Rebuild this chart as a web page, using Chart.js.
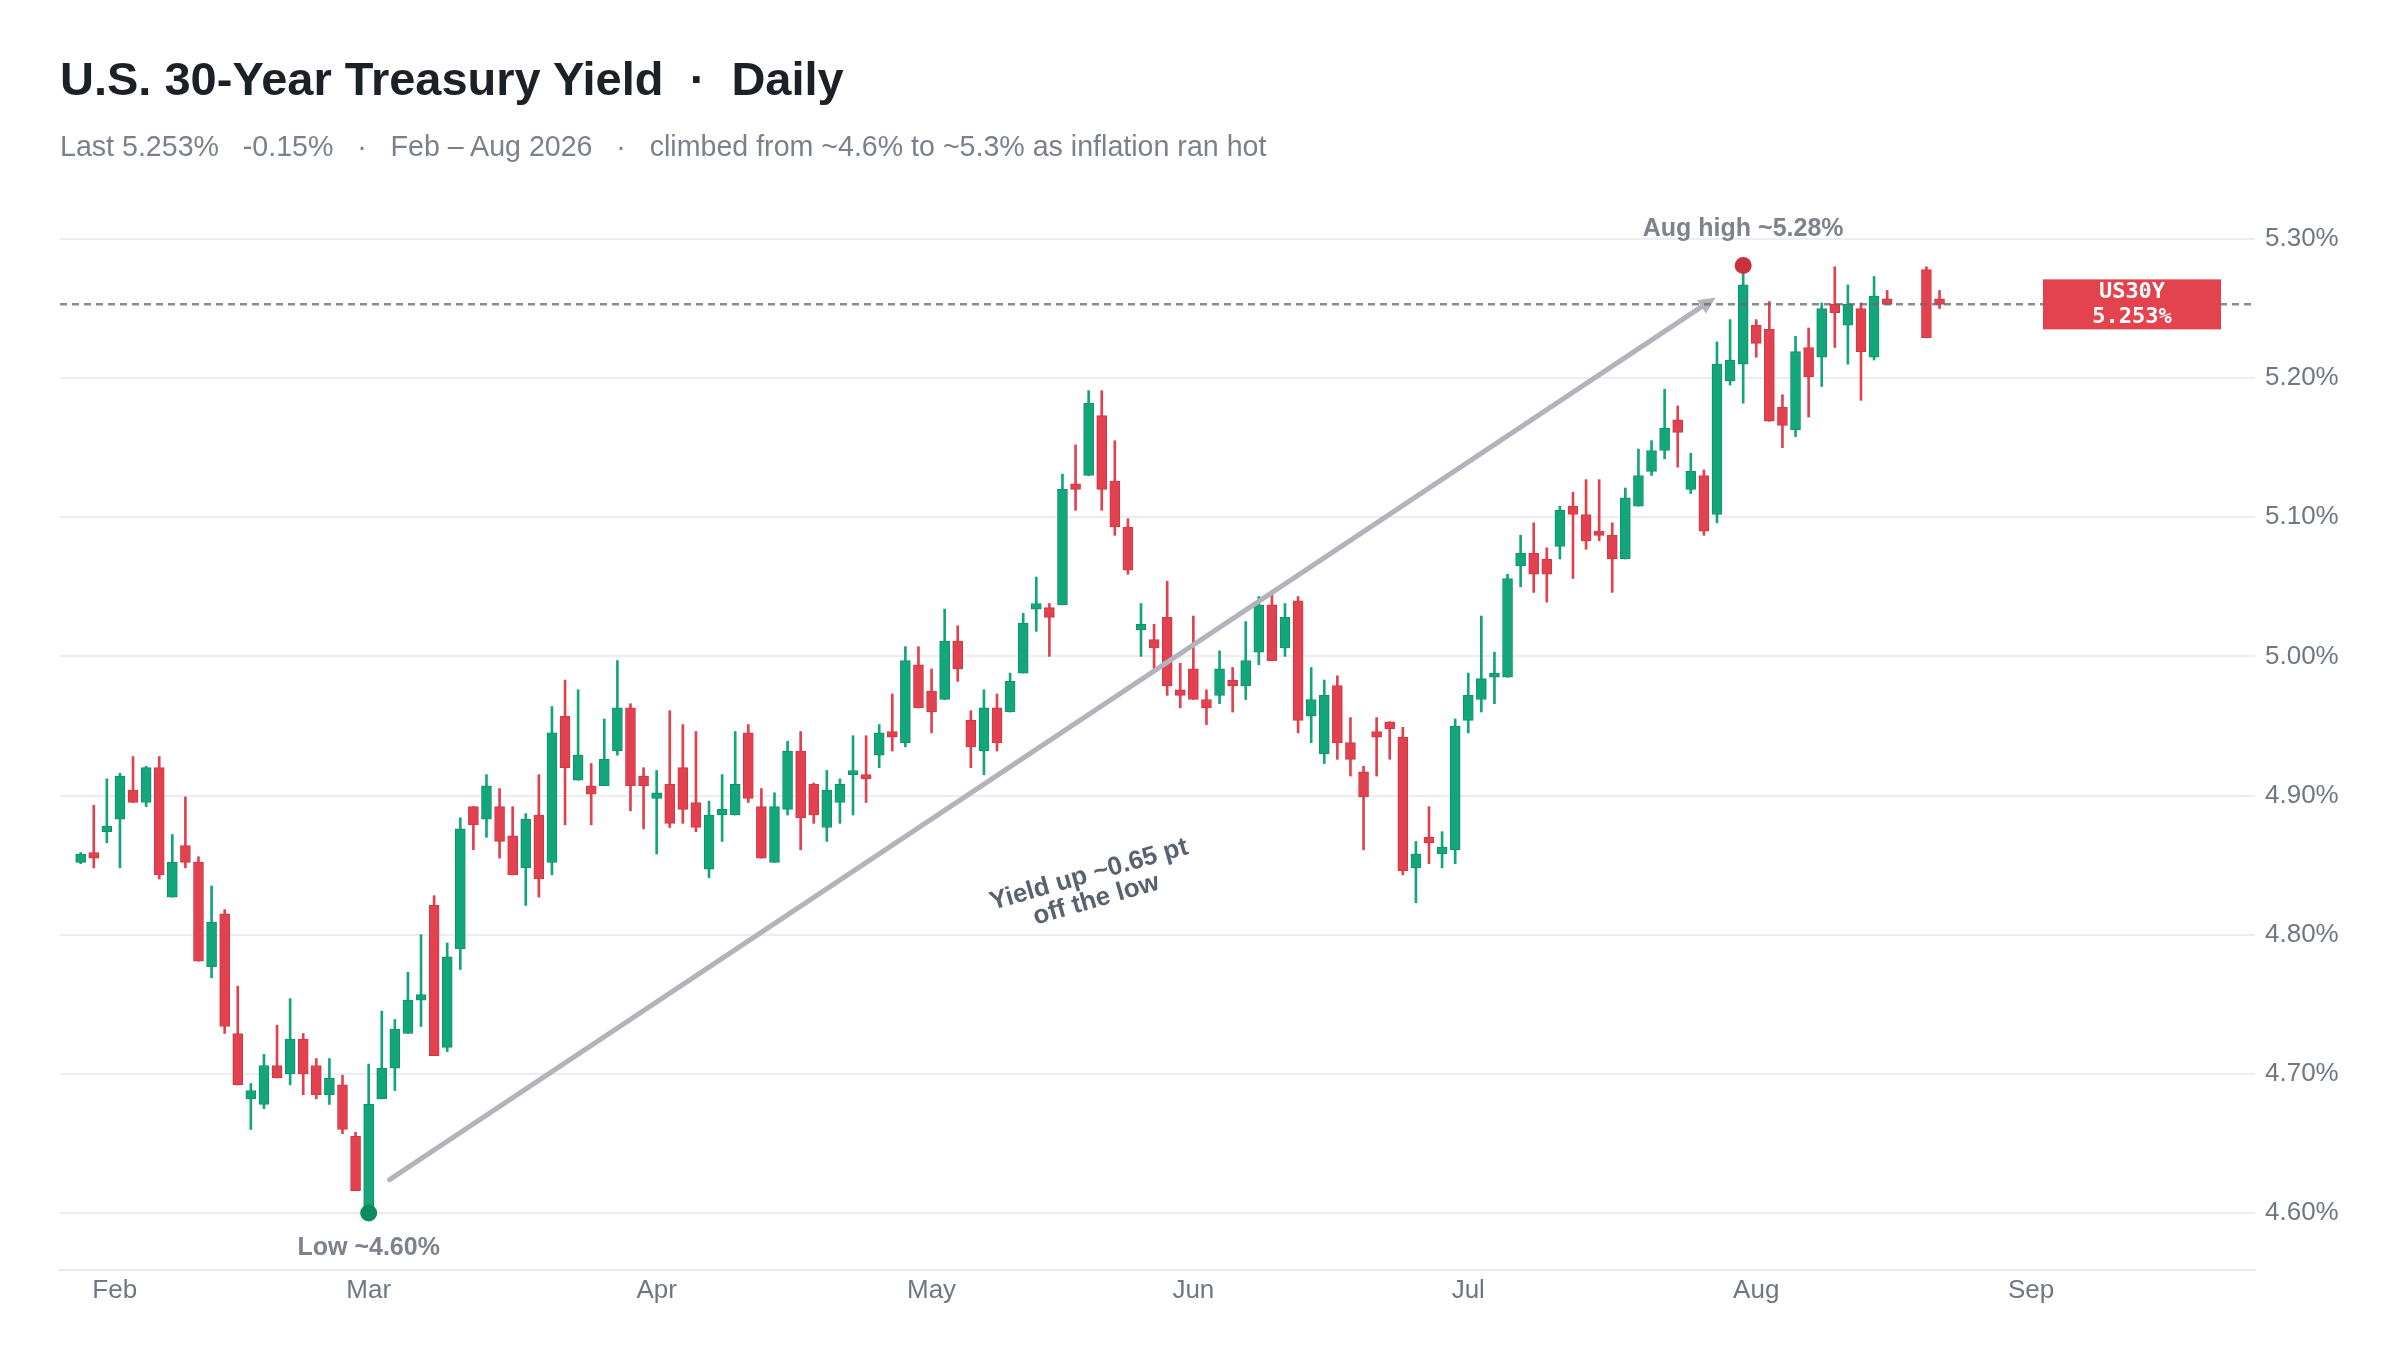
<!DOCTYPE html>
<html>
<head>
<meta charset="utf-8">
<title>US30Y daily</title>
<script src="https://cdn.jsdelivr.net/npm/chart.js@4.4.1/dist/chart.umd.min.js"></script>
<style>
  html, body { margin: 0; padding: 0; background: #fff; }
  body { width: 2399px; height: 1362px; position: relative; overflow: hidden;
         font-family: "Liberation Sans", Arial, sans-serif; }
  #wrap { position: absolute; left: 0; top: 0; width: 2399px; height: 1362px; }
  #title { position: absolute; left: 60px; top: 55px; font-size: 47px; line-height: 47px;
           font-weight: bold; color: #1d2026; white-space: pre; }
  #subtitle { position: absolute; left: 60px; top: 132px; font-size: 28.6px; line-height: 28.6px;
              color: #7b818c; white-space: pre; }
</style>
</head>
<body>
<div id="wrap"><canvas id="chart"></canvas></div>
<div id="title">U.S. 30-Year Treasury Yield  ·  Daily</div>
<div id="subtitle">Last 5.253%   -0.15%   ·   Feb – Aug 2026   ·   climbed from ~4.6% to ~5.3% as inflation ran hot</div>
<script>
// one entry per trading day, x = position in the array (null = no print)
const opens = [
  4.852, 4.859, 4.874, 4.883, 4.904, 4.895, 4.920, 4.827, 4.864, 4.852,
  4.777, 4.815, 4.729, 4.682, 4.678, 4.706, 4.700, 4.725, 4.706, 4.685,
  4.692, 4.655, 4.601, 4.682, 4.704, 4.729, 4.753, 4.821, 4.719, 4.790,
  4.892, 4.883, 4.892, 4.871, 4.848, 4.886, 4.852, 4.957, 4.911, 4.907,
  4.907, 4.932, 4.963, 4.914, 4.898, 4.908, 4.920, 4.895, 4.847, 4.886,
  4.886, 4.945, 4.892, 4.852, 4.890, 4.932, 4.908, 4.877, 4.895, 4.915,
  4.915, 4.929, 4.946, 4.938, 4.994, 4.975, 4.969, 5.011, 4.954, 4.932,
  4.963, 4.960, 4.988, 5.034, 5.035, 5.037, 5.124, 5.130, 5.173, 5.126,
  5.093, 5.019, 5.012, 5.028, 4.976, 4.991, 4.969, 4.972, 4.983, 4.979,
  5.003, 5.037, 5.006, 5.040, 4.957, 4.930, 4.979, 4.938, 4.917, 4.946,
  4.953, 4.942, 4.848, 4.870, 4.858, 4.861, 4.954, 4.969, 4.985, 4.985,
  5.065, 5.074, 5.070, 5.079, 5.108, 5.102, 5.090, 5.087, 5.070, 5.108,
  5.133, 5.148, 5.170, 5.120, 5.130, 5.102, 5.198, 5.210, 5.238, 5.235,
  5.179, 5.163, 5.222, 5.215, 5.253, 5.238, 5.250, 5.215, 5.257, null,
  null, 5.278, 5.257
];
const highs = [
  4.859, 4.893, 4.912, 4.916, 4.928, 4.921, 4.928, 4.872, 4.899, 4.856,
  4.835, 4.818, 4.763, 4.693, 4.714, 4.735, 4.754, 4.729, 4.711, 4.711,
  4.699, 4.658, 4.707, 4.745, 4.739, 4.773, 4.800, 4.828, 4.794, 4.884,
  4.892, 4.915, 4.905, 4.892, 4.887, 4.915, 4.964, 4.983, 4.976, 4.923,
  4.955, 4.997, 4.966, 4.920, 4.918, 4.961, 4.951, 4.946, 4.896, 4.915,
  4.946, 4.951, 4.905, 4.902, 4.939, 4.946, 4.909, 4.918, 4.912, 4.943,
  4.943, 4.951, 4.973, 5.007, 5.007, 4.991, 5.034, 5.022, 4.961, 4.976,
  4.973, 4.988, 5.031, 5.057, 5.038, 5.131, 5.152, 5.191, 5.191, 5.155,
  5.099, 5.038, 5.023, 5.054, 4.995, 5.029, 4.976, 5.004, 4.992, 5.025,
  5.043, 5.047, 5.038, 5.043, 4.992, 4.983, 4.986, 4.956, 4.921, 4.956,
  4.953, 4.949, 4.867, 4.892, 4.874, 4.955, 4.988, 5.029, 5.003, 5.059,
  5.087, 5.096, 5.078, 5.108, 5.118, 5.127, 5.127, 5.096, 5.121, 5.149,
  5.155, 5.192, 5.180, 5.146, 5.134, 5.226, 5.242, 5.281, 5.242, 5.255,
  5.188, 5.230, 5.236, 5.254, 5.280, 5.267, 5.254, 5.273, 5.263, null,
  null, 5.280, 5.263
];
const lows = [
  4.851, 4.848, 4.866, 4.848, 4.895, 4.892, 4.840, 4.827, 4.848, 4.781,
  4.769, 4.729, 4.692, 4.660, 4.675, 4.697, 4.692, 4.685, 4.682, 4.678,
  4.657, 4.616, 4.600, 4.682, 4.688, 4.729, 4.734, 4.713, 4.716, 4.775,
  4.861, 4.870, 4.855, 4.843, 4.821, 4.827, 4.843, 4.879, 4.911, 4.879,
  4.907, 4.929, 4.889, 4.876, 4.858, 4.877, 4.880, 4.874, 4.841, 4.867,
  4.886, 4.895, 4.855, 4.852, 4.886, 4.861, 4.880, 4.867, 4.880, 4.886,
  4.895, 4.920, 4.932, 4.935, 4.963, 4.945, 4.969, 4.982, 4.920, 4.915,
  4.932, 4.960, 4.988, 5.018, 5.000, 5.037, 5.105, 5.130, 5.105, 5.087,
  5.059, 5.000, 4.991, 4.972, 4.963, 4.969, 4.951, 4.966, 4.960, 4.969,
  4.994, 4.997, 5.000, 4.945, 4.938, 4.923, 4.926, 4.914, 4.861, 4.914,
  4.926, 4.843, 4.823, 4.851, 4.848, 4.851, 4.945, 4.960, 4.966, 4.985,
  5.050, 5.046, 5.039, 5.070, 5.056, 5.077, 5.083, 5.046, 5.070, 5.108,
  5.130, 5.142, 5.136, 5.117, 5.087, 5.096, 5.195, 5.182, 5.215, 5.169,
  5.150, 5.158, 5.172, 5.194, 5.222, 5.210, 5.184, 5.213, 5.253, null,
  null, 5.229, 5.250
];
const closes = [
  4.858, 4.855, 4.878, 4.914, 4.895, 4.920, 4.843, 4.852, 4.852, 4.781,
  4.809, 4.734, 4.692, 4.688, 4.706, 4.697, 4.725, 4.700, 4.685, 4.697,
  4.660, 4.616, 4.678, 4.704, 4.732, 4.753, 4.757, 4.713, 4.784, 4.876,
  4.879, 4.907, 4.867, 4.843, 4.883, 4.840, 4.945, 4.920, 4.929, 4.901,
  4.926, 4.963, 4.907, 4.907, 4.902, 4.880, 4.890, 4.877, 4.886, 4.890,
  4.908, 4.898, 4.855, 4.892, 4.932, 4.884, 4.886, 4.904, 4.908, 4.918,
  4.912, 4.945, 4.942, 4.997, 4.963, 4.960, 5.011, 4.991, 4.935, 4.963,
  4.938, 4.982, 5.024, 5.038, 5.028, 5.120, 5.120, 5.182, 5.120, 5.093,
  5.062, 5.023, 5.006, 4.979, 4.972, 4.969, 4.963, 4.991, 4.979, 4.997,
  5.037, 4.997, 5.028, 4.954, 4.969, 4.972, 4.938, 4.926, 4.899, 4.942,
  4.948, 4.846, 4.858, 4.866, 4.863, 4.950, 4.972, 4.984, 4.988, 5.056,
  5.074, 5.059, 5.059, 5.105, 5.102, 5.083, 5.087, 5.070, 5.114, 5.130,
  5.148, 5.164, 5.161, 5.133, 5.090, 5.210, 5.213, 5.267, 5.225, 5.169,
  5.166, 5.219, 5.201, 5.250, 5.247, 5.253, 5.219, 5.259, 5.253, null,
  null, 5.229, 5.253
];

const monthLabels = ['Feb', 'Mar', 'Apr', 'May', 'Jun', 'Jul', 'Aug', 'Sep'];
const monthTickIdx = [2.6, 22, 44, 65, 85, 106, 128, 149];
const yTicks = [4.6, 4.7, 4.8, 4.9, 5.0, 5.1, 5.2, 5.3];

const lowIdx = 22;
const highIdx = 127;
const lastValue = 5.253;
const arrowFrom = [23.6, 4.624];
const arrowTo = [124.9, 5.258];
const noteAt = [77.3, 4.834];

const FONT = '"Liberation Sans", Arial, sans-serif';
const UP = '#12a67a', DOWN = '#e2414f';
const UP_EDGE = '#0f936b', DOWN_EDGE = '#cf3846';
const AXIS_TEXT = '#707783';

Chart.defaults.font.family = FONT;

const candles = [];
opens.forEach((o, i) => {
  if (o === null) return;
  candles.push({ x: i, o: o, h: highs[i], l: lows[i], c: closes[i] });
});
const up = i => candles[i].c >= candles[i].o;

const overlay = {
  id: 'overlay',
  afterDatasetsDraw(chart) {
    const { ctx, chartArea: a, scales: { x, y } } = chart;
    ctx.save();

    // arrow from the low to the high
    const x1 = x.getPixelForValue(arrowFrom[0]), y1 = y.getPixelForValue(arrowFrom[1]);
    const x2 = x.getPixelForValue(arrowTo[0]), y2 = y.getPixelForValue(arrowTo[1]);
    const ang = Math.atan2(y2 - y1, x2 - x1);
    const head = 17;
    ctx.strokeStyle = '#b3b4bb';
    ctx.fillStyle = '#b3b4bb';
    ctx.lineWidth = 5;
    ctx.lineCap = 'round';
    ctx.beginPath();
    ctx.moveTo(x1, y1);
    ctx.lineTo(x2 - Math.cos(ang) * head * 0.8, y2 - Math.sin(ang) * head * 0.8);
    ctx.stroke();
    ctx.beginPath();
    ctx.moveTo(x2, y2);
    ctx.lineTo(x2 - head * Math.cos(ang) + 8 * Math.sin(ang), y2 - head * Math.sin(ang) - 8 * Math.cos(ang));
    ctx.lineTo(x2 - head * Math.cos(ang) - 8 * Math.sin(ang), y2 - head * Math.sin(ang) + 8 * Math.cos(ang));
    ctx.closePath();
    ctx.fill();

    // note along the move
    ctx.save();
    ctx.translate(x.getPixelForValue(noteAt[0]), y.getPixelForValue(noteAt[1]));
    ctx.rotate(-16 * Math.PI / 180);
    ctx.fillStyle = '#5a6270';
    ctx.font = 'bold 26px ' + FONT;
    ctx.textAlign = 'center';
    ctx.textBaseline = 'middle';
    ctx.fillText('Yield up ~0.65 pt', 0, -13);
    ctx.fillText('off the low', 0, 13);
    ctx.restore();

    // low / high labels
    ctx.fillStyle = '#7d828c';
    ctx.font = 'bold 25px ' + FONT;
    ctx.textAlign = 'center';
    ctx.textBaseline = 'middle';
    ctx.fillText('Low ~' + lows[lowIdx].toFixed(2) + '%', x.getPixelForValue(lowIdx), y.getPixelForValue(lows[lowIdx]) + 35);
    ctx.fillText('Aug high ~' + highs[highIdx].toFixed(2) + '%', x.getPixelForValue(highIdx), y.getPixelForValue(highs[highIdx]) - 36);

    // last value line
    const ly = y.getPixelForValue(lastValue);
    ctx.setLineDash([7, 5]);
    ctx.lineCap = 'butt';
    ctx.strokeStyle = 'rgba(105,105,105,0.78)';
    ctx.lineWidth = 2.5;
    ctx.beginPath();
    ctx.moveTo(a.left, ly);
    ctx.lineTo(a.right, ly);
    ctx.stroke();
    ctx.setLineDash([]);

    // last value badge
    const bw = 178, bh = 50, br = a.right - 34;
    ctx.fillStyle = '#e2434f';
    ctx.fillRect(br - bw, ly - bh / 2, bw, bh);
    ctx.fillStyle = '#ffffff';
    ctx.font = 'bold 22px "DejaVu Sans Mono", monospace';
    ctx.fillText('US30Y', br - bw / 2, ly - 12);
    ctx.fillText(lastValue.toFixed(3) + '%', br - bw / 2, ly + 13);

    ctx.restore();
  }
};

new Chart(document.getElementById('chart'), {
  type: 'bar',
  data: {
    datasets: [
      {
        label: 'wick',
        data: candles.map(c => ({ x: c.x, y: [c.l, c.h] })),
        backgroundColor: ctx => up(ctx.dataIndex) ? UP : DOWN,
        barThickness: 2,
        grouped: false,
        order: 3
      },
      {
        label: 'body',
        data: candles.map(c => ({ x: c.x, y: [c.o, c.c] })),
        backgroundColor: ctx => up(ctx.dataIndex) ? UP : DOWN,
        borderColor: ctx => up(ctx.dataIndex) ? UP_EDGE : DOWN_EDGE,
        borderWidth: 1,
        borderSkipped: false,
        minBarLength: 3,
        barThickness: 10,
        grouped: false,
        order: 2
      },
      {
        type: 'scatter',
        label: 'low',
        data: [{ x: lowIdx, y: lows[lowIdx] }],
        pointRadius: 8.5,
        pointBackgroundColor: '#0e8a60',
        pointBorderWidth: 0,
        order: 1
      },
      {
        type: 'scatter',
        label: 'high',
        data: [{ x: highIdx, y: highs[highIdx] }],
        pointRadius: 8.5,
        pointBackgroundColor: '#c9313f',
        pointBorderWidth: 0,
        order: 1
      }
    ]
  },
  options: {
    responsive: true,
    maintainAspectRatio: false,
    animation: false,
    layout: { padding: { left: 60, top: 200, right: 0, bottom: 0 } },
    plugins: { legend: { display: false }, tooltip: { enabled: false } },
    scales: {
      x: {
        type: 'linear',
        min: -1.58,
        max: 166.1,
        offset: false,
        grid: { display: false, drawTicks: false },
        border: { display: true, color: '#e7e8ec', width: 2 },
        afterBuildTicks: s => { s.ticks = monthTickIdx.map(v => ({ value: v })); },
        afterFit: s => { s.height = 92; },
        ticks: {
          autoSkip: false,
          maxRotation: 0,
          padding: 5,
          color: AXIS_TEXT,
          font: { size: 26 },
          callback: (v, i) => monthLabels[i]
        }
      },
      y: {
        type: 'linear',
        position: 'right',
        min: 4.559,
        max: 5.328,
        grid: { color: '#ededf1', lineWidth: 2, drawTicks: false },
        border: { display: false },
        afterBuildTicks: s => { s.ticks = yTicks.map(v => ({ value: v })); },
        afterFit: s => { s.width = 144; },
        ticks: {
          padding: 10,
          color: AXIS_TEXT,
          font: { size: 26 },
          callback: v => v.toFixed(2) + '%'
        }
      }
    }
  },
  plugins: [overlay]
});
</script>
</body>
</html>
